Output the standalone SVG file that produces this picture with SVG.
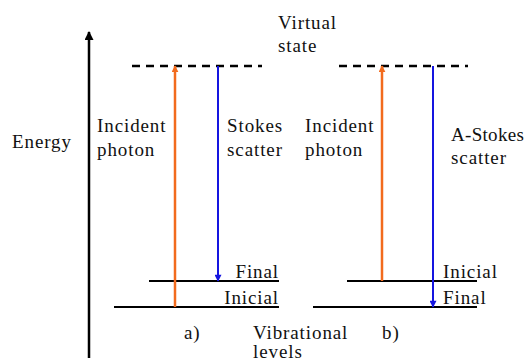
<svg xmlns="http://www.w3.org/2000/svg" width="528" height="362" viewBox="0 0 528 362">
<defs>
<style>
text{font-family:"Liberation Serif","Times New Roman",serif;font-size:19px;letter-spacing:0.9px;fill:#111}
.lvl{stroke:#000;stroke-width:2;fill:none}
.dash{stroke:#000;stroke-width:2.5;stroke-dasharray:8 6;fill:none}
.or{stroke:#F26B1D;stroke-width:2.5;fill:none}
.bl{stroke:#1515E0;stroke-width:2;fill:none}
</style>
<marker id="ahK" viewBox="0 0 10 10" refX="9" refY="5" markerWidth="10" markerHeight="9" markerUnits="userSpaceOnUse" orient="auto"><path d="M0,0 L10,5 L0,10 z" fill="#000"/></marker>
<marker id="ahO" viewBox="0 0 10 10" refX="9" refY="5" markerWidth="7" markerHeight="7" markerUnits="userSpaceOnUse" orient="auto"><path d="M0,0 L10,5 L0,10 z" fill="#F26B1D"/></marker>
<marker id="ahB" viewBox="0 0 10 10" refX="9" refY="5" markerWidth="8" markerHeight="7" markerUnits="userSpaceOnUse" orient="auto"><path d="M0,0 L10,5 L0,10 z" fill="#1515E0"/></marker>
</defs>
<rect width="528" height="362" fill="#fff"/>
<g id="axis">
<line x1="89" y1="358" x2="89" y2="32" stroke="#000" stroke-width="2.5" marker-end="url(#ahK)"/>
<text x="12" y="148">Energy</text>
</g>
<g id="levels-a">
<line class="dash" x1="132" y1="66" x2="262" y2="66"/>
<line class="lvl" x1="149" y1="281" x2="279" y2="281"/>
<line class="lvl" x1="114" y1="307" x2="279" y2="307"/>
<text x="279" y="278" text-anchor="end">Final</text>
<text x="279" y="304" text-anchor="end">Inicial</text>
<text x="184" y="339">a)</text>
</g>
<g id="levels-b">
<line class="dash" x1="339" y1="66" x2="468" y2="66"/>
<line class="lvl" x1="347" y1="281" x2="477" y2="281"/>
<line class="lvl" x1="313" y1="307" x2="477" y2="307"/>
<text x="443" y="278">Inicial</text>
<text x="443" y="304">Final</text>
<text x="382" y="339">b)</text>
</g>
<g id="labels">
<text x="278" y="29">Virtual</text>
<text x="278" y="52">state</text>
<text x="97" y="132">Incident</text>
<text x="97" y="156">photon</text>
<text x="227" y="132">Stokes</text>
<text x="227" y="156">scatter</text>
<text x="305" y="132">Incident</text>
<text x="305" y="156">photon</text>
<text x="451" y="141" style="letter-spacing:0.3px">A-Stokes</text>
<text x="451" y="164">scatter</text>
<text x="253" y="339">Vibrational</text>
<text x="253" y="358">levels</text>
</g>
<g id="connectors">
<line class="or" x1="175" y1="307" x2="175" y2="66" marker-end="url(#ahO)"/>
<line class="bl" x1="218" y1="66" x2="218" y2="281" marker-end="url(#ahB)"/>
<line class="or" x1="382" y1="281" x2="382" y2="66" marker-end="url(#ahO)"/>
<line class="bl" x1="433" y1="66" x2="433" y2="307" marker-end="url(#ahB)"/>
</g>
</svg>
